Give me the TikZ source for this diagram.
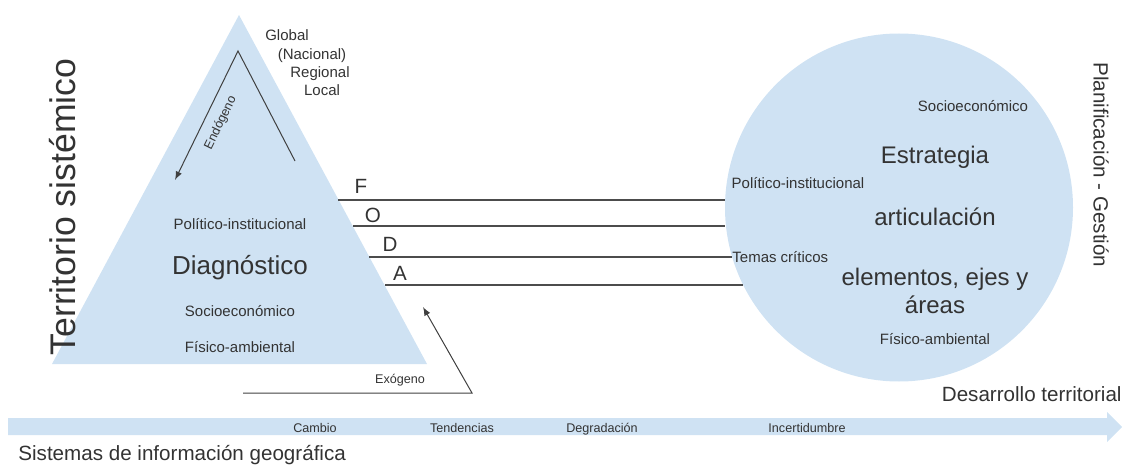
\documentclass[tikz,border=0pt]{standalone}
\usepackage{fontspec}
\setmainfont{Liberation Sans}
\usepackage{tikz}
\usetikzlibrary{calc,arrows}

\definecolor{paleblue}{HTML}{CFE2F3}
\definecolor{inkgray}{HTML}{333333}

\begin{document}
\begin{tikzpicture}
	[   x=0.5pt,y=-0.5pt,
	    every node/.style={text=inkgray,inner sep=0pt},
	    hugetext/.style={font=\fontsize{17.8}{20}\selectfont},
	    bigtext/.style={font=\fontsize{#1}{14}\selectfont,align=center},
	    midtext/.style={font=\fontsize{10.3}{12}\selectfont},
	    smalltext/.style={font=\fontsize{7.5}{9}\selectfont,text height=0.72em,text depth=0.2em},
	    tinytext/.style={font=\fontsize{6.3}{8}\selectfont,text height=0.72em,text depth=0.2em},
	]
	\tikzset{normal arrow/.style={draw=black!75,line width=0.5pt,-latex},
	         foda line/.style={draw=black!70,line width=0.65pt}}
	\useasboundingbox (0,0) rectangle (1125,465);
	
	% triangulo del diagnostico
	\coordinate (apex) at (239,15);
	\coordinate (base-l) at (52,364);
	\coordinate (base-r) at (427,364);
	\fill[paleblue] (apex) -- (base-r) -- (base-l) -- cycle;
	
	% circulo de la estrategia
	\node[circle,fill=paleblue,minimum size=174pt] (plan) at (899,207.5) {};
	
	% flecha inferior
	\coordinate (sig-0) at (8,418);
	\coordinate (sig-1) at (1107,418);
	\coordinate (sig-2) at (1107,412);
	\coordinate (sig-3) at (1122,427);
	\coordinate (sig-4) at (1107,442);
	\coordinate (sig-5) at (1107,435);
	\coordinate (sig-6) at (8,435);
	\fill[paleblue] (sig-0) -- (sig-1) -- (sig-2) -- (sig-3) -- (sig-4) -- (sig-5) -- (sig-6) -- cycle;
	
	\node[hugetext,rotate=90] (terr) at (63,207) {Territorio sistémico};
	\node[midtext,rotate=-90] (plang) at (1101,165) {Planificación - Gestión};
	\node[midtext,anchor=east] (desa) at (1122,394) {Desarrollo territorial};
	\node[midtext,anchor=west] (sig) at (18,455) {Sistemas de información geográfica};
	
	% escalas
	\node[smalltext] (glob) at (287,35) {Global};
	\node[smalltext] (naci) at (312,54) {(Nacional)};
	\node[smalltext] (regi) at (320,72) {Regional};
	\node[smalltext] (loca) at (322,90) {Local};
	
	% endogeno
	\coordinate (endo-a) at (295,161);
	\coordinate (endo-b) at (238,51);
	\coordinate (endo-c) at (175,180);
	\path[normal arrow] (endo-a) -- (endo-b) -- (endo-c);
	\node[tinytext,rotate=64] (endo) at (219,122) {Endógeno};
	
	% textos del triangulo
	\node[smalltext] (t-pol) at (240,224) {Político-institucional};
	\node[bigtext=13] (diag) at (240,268) {Diagnóstico};
	\node[smalltext] (t-soc) at (240,311) {Socioeconómico};
	\node[smalltext] (t-fis) at (240,347) {Físico-ambiental};
	
	% exogeno
	\coordinate (exo-a) at (243,393);
	\coordinate (exo-b) at (472,393);
	\coordinate (exo-c) at (423,307);
	\path[normal arrow] (exo-a) -- (exo-b) -- (exo-c);
	\node[tinytext] (exo) at (400,378) {Exógeno};
	
	% FODA
	\foreach \l/\y/\xa/\xb/\lx/\ly in {F/200/338/725/361/186, O/226/353/725/373/215, D/257/369/732/390/244, A/285/385/743/400/273}
	{
		\coordinate (\l-a) at (\xa,\y);
		\coordinate (\l-b) at (\xb,\y);
		\path[foda line] (\l-a) -- (\l-b);
		\node[midtext] (lab-\l) at (\lx,\ly) {\l};
	}
	
	% textos del circulo
	\node[smalltext] (c-soc) at (973,106) {Socioeconómico};
	\node[bigtext=12] (estr) at (935,157) {Estrategia};
	\node[smalltext] (c-pol) at (798,183) {Político-institucional};
	\node[bigtext=12] (arti) at (935,217) {articulación};
	\node[smalltext,anchor=west] (c-tem) at (732,257) {Temas críticos};
	\node[bigtext=12] (elem) at (935,291) {elementos, ejes y\\áreas};
	\node[smalltext] (c-fis) at (935,339) {Físico-ambiental};
	
	% tendencias
	\foreach \t/\x in {Cambio/315, Tendencias/462, Degradación/602, Incertidumbre/807}
	{
		\node[tinytext] (tend-\x) at (\x,427) {\t};
	}
\end{tikzpicture}
\end{document}
